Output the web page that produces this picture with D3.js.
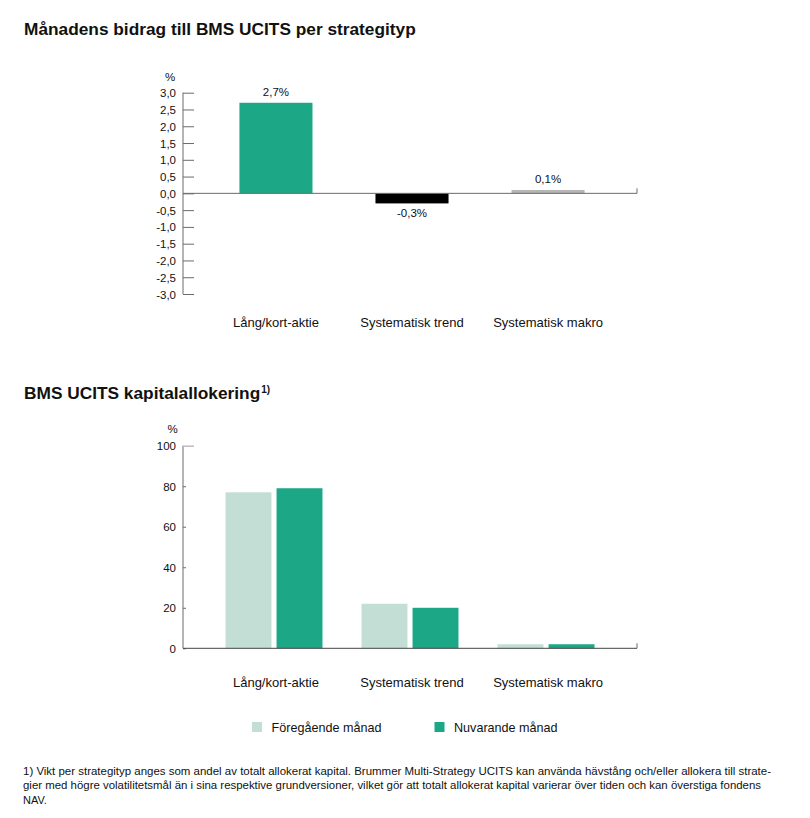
<!DOCTYPE html>
<html>
<head>
<meta charset="utf-8">
<script src="https://cdn.jsdelivr.net/npm/d3@7"></script>
<style>
  html, body { margin: 0; padding: 0; background: #fff; }
  svg { display: block; font-family: "Liberation Sans", Arial, Helvetica, sans-serif; }
</style>
</head>
<body>
<svg id="chart" width="810" height="818"></svg>
<script>
// ---- data ----
const categories = ["Lång/kort-aktie", "Systematisk trend", "Systematisk makro"];
const contribution = [2.7, -0.3, 0.1];
const contributionColors = ["#1ca887", "#000000", "#b5b5b5"];
const contributionTicks = [3.0, 2.5, 2.0, 1.5, 1.0, 0.5, 0.0, -0.5, -1.0, -1.5, -2.0, -2.5, -3.0];

const series = ["Föregående månad", "Nuvarande månad"];
const previousMonth = [77, 22, 2];
const currentMonth = [79, 20, 2];
const seriesColors = ["#c3ded4", "#1ca887"];
const allocationTicks = [0, 20, 40, 60, 80, 100];

const title1 = "Månadens bidrag till BMS UCITS per strategityp";
const title2 = "BMS UCITS kapitalallokering";
const footnoteLines = [
  "1) Vikt per strategityp anges som andel av totalt allokerat kapital. Brummer Multi-Strategy UCITS kan använda hävstång och/eller allokera till strate-",
  "gier med högre volatilitetsmål än i sina respektive grundversioner, vilket gör att totalt allokerat kapital varierar över tiden och kan överstiga fondens",
  "NAV."
];

// ---- setup ----
const locale = d3.formatLocale({decimal: ",", thousands: " ", grouping: [3], currency: ["", " kr"], minus: "-"});
const f1 = locale.format(".1f");
const svg = d3.select("#chart");
const axisColor = "#6b6b6b";
const textColor = "#111";

const xLeft = 183, xRight = 637;

// ---- titles ----
svg.append("text").attr("x", 24).attr("y", 35)
  .attr("font-size", 17.3).attr("font-weight", "bold").attr("fill", textColor).text(title1);
const t2 = svg.append("text").attr("x", 24).attr("y", 399)
  .attr("font-size", 17.3).attr("font-weight", "bold").attr("fill", textColor);
t2.append("tspan").text(title2);
t2.append("tspan").attr("font-size", 10).attr("dy", -6).attr("dx", 1).text("1)");

// ================= Chart 1 =================
const y1 = d3.scaleLinear().domain([-3, 3]).range([294, 92.7]);
const x1 = d3.scaleBand().domain(categories).range([xLeft + 2, xRight + 2])
  .paddingInner(0.463).paddingOuter(0.40);

const g1 = svg.append("g");
// axis
const ax1 = g1.append("g").attr("transform", `translate(${xLeft},0)`)
  .call(d3.axisRight(y1).tickValues(contributionTicks).tickSize(11).tickFormat(""));
ax1.select(".domain").attr("stroke", axisColor).attr("d", `M0,${y1(3)}V${y1(-3)}`);
ax1.selectAll(".tick line").attr("stroke", axisColor);
g1.selectAll("text.ytick").data(contributionTicks).join("text")
  .attr("class", "ytick")
  .attr("x", 176).attr("y", d => y1(d) + 4.5)
  .attr("text-anchor", "end").attr("font-size", 11.5).attr("fill", textColor)
  .text(d => f1(d));
g1.append("text").attr("x", 170).attr("y", 81).attr("text-anchor", "middle")
  .attr("font-size", 11.5).attr("fill", textColor).text("%");

// bars
g1.selectAll("rect.bar").data(contribution).join("rect")
  .attr("class", "bar")
  .attr("x", (d, i) => x1(categories[i]))
  .attr("width", x1.bandwidth())
  .attr("y", d => y1(Math.max(0, d)))
  .attr("height", d => Math.abs(y1(d) - y1(0)))
  .attr("fill", (d, i) => contributionColors[i]);

// zero line
g1.append("line").attr("x1", xLeft).attr("x2", xRight).attr("y1", y1(0)).attr("y2", y1(0))
  .attr("stroke", axisColor).attr("stroke-width", 1);
g1.append("line").attr("x1", xRight).attr("x2", xRight).attr("y1", y1(0) - 5).attr("y2", y1(0))
  .attr("stroke", axisColor);

// value labels
g1.selectAll("text.val").data(contribution).join("text")
  .attr("class", "val")
  .attr("x", (d, i) => x1(categories[i]) + x1.bandwidth() / 2)
  .attr("y", d => d >= 0 ? y1(d) - 6.5 : y1(d) + 14)
  .attr("text-anchor", "middle").attr("font-size", 11.5).attr("fill", textColor)
  .text(d => f1(d) + "%");

// category labels
g1.selectAll("text.cat").data(categories).join("text")
  .attr("class", "cat")
  .attr("x", d => x1(d) + x1.bandwidth() / 2)
  .attr("y", 327)
  .attr("text-anchor", "middle").attr("font-size", 13).attr("fill", textColor)
  .text(d => d);

// ================= Chart 2 =================
const y2 = d3.scaleLinear().domain([0, 100]).range([648.3, 445.7]);
const x2 = d3.scaleBand().domain(categories).range([xLeft, xRight])
  .paddingInner(0.287).paddingOuter(0.3125);
const xs = d3.scaleBand().domain(series).range([0, x2.bandwidth()]).paddingInner(0.1);

const g2 = svg.append("g");
const ax2 = g2.append("g").attr("transform", `translate(${xLeft},0)`)
  .call(d3.axisRight(y2).tickValues(allocationTicks).tickSize(3).tickFormat(""));
ax2.select(".domain").attr("stroke", axisColor).attr("d", `M0,${y2(100)}V${y2(0)}`);
ax2.selectAll(".tick line").attr("stroke", axisColor);
ax2.selectAll(".tick").filter(d => d === 100).select("line")
  .attr("x2", 11).attr("stroke", "#bdbdbd").attr("stroke-width", 1.5);
g2.selectAll("text.ytick").data(allocationTicks).join("text")
  .attr("class", "ytick")
  .attr("x", 176).attr("y", d => y2(d) + 4.5)
  .attr("text-anchor", "end").attr("font-size", 11.5).attr("fill", textColor)
  .text(d => d);
g2.append("text").attr("x", 172.5).attr("y", 433).attr("text-anchor", "middle")
  .attr("font-size", 11.5).attr("fill", textColor).text("%");

const seriesData = [previousMonth, currentMonth];
const groups = g2.selectAll("g.grp").data(categories).join("g")
  .attr("class", "grp")
  .attr("transform", d => `translate(${x2(d)},0)`);
groups.selectAll("rect").data((c, ci) => series.map((s, si) => ({s, si, v: seriesData[si][ci]})))
  .join("rect")
  .attr("x", d => xs(d.s))
  .attr("width", xs.bandwidth())
  .attr("y", d => y2(d.v))
  .attr("height", d => y2(0) - y2(d.v))
  .attr("fill", d => seriesColors[d.si]);

g2.append("line").attr("x1", xLeft).attr("x2", xRight).attr("y1", y2(0)).attr("y2", y2(0))
  .attr("stroke", "#444").attr("stroke-width", 1);
g2.append("line").attr("x1", xRight).attr("x2", xRight).attr("y1", y2(0) - 5).attr("y2", y2(0))
  .attr("stroke", axisColor);

g2.selectAll("text.cat").data(categories).join("text")
  .attr("class", "cat")
  .attr("x", d => x1(d) + x1.bandwidth() / 2)
  .attr("y", 687)
  .attr("text-anchor", "middle").attr("font-size", 13).attr("fill", textColor)
  .text(d => d);

// legend
const legendX = [252, 434.5];
const lg = svg.append("g").selectAll("g").data(series).join("g")
  .attr("transform", (d, i) => `translate(${legendX[i]},722)`);
lg.append("rect").attr("width", 10).attr("height", 10).attr("fill", (d, i) => seriesColors[i]);
lg.append("text").attr("x", 19.5).attr("y", 9.5).attr("font-size", 12.6).attr("fill", textColor).text(d => d);

// footnote
const fnWidths = [748, 738, null];
const fnY = [774.5, 789, 803.5];
footnoteLines.forEach((line, i) => {
  const t = svg.append("text").attr("x", 23).attr("y", fnY[i])
    .attr("font-size", 11).attr("fill", textColor).text(line);
  if (fnWidths[i]) t.attr("textLength", fnWidths[i]).attr("lengthAdjust", "spacingAndGlyphs");
});
</script>
</body>
</html>
